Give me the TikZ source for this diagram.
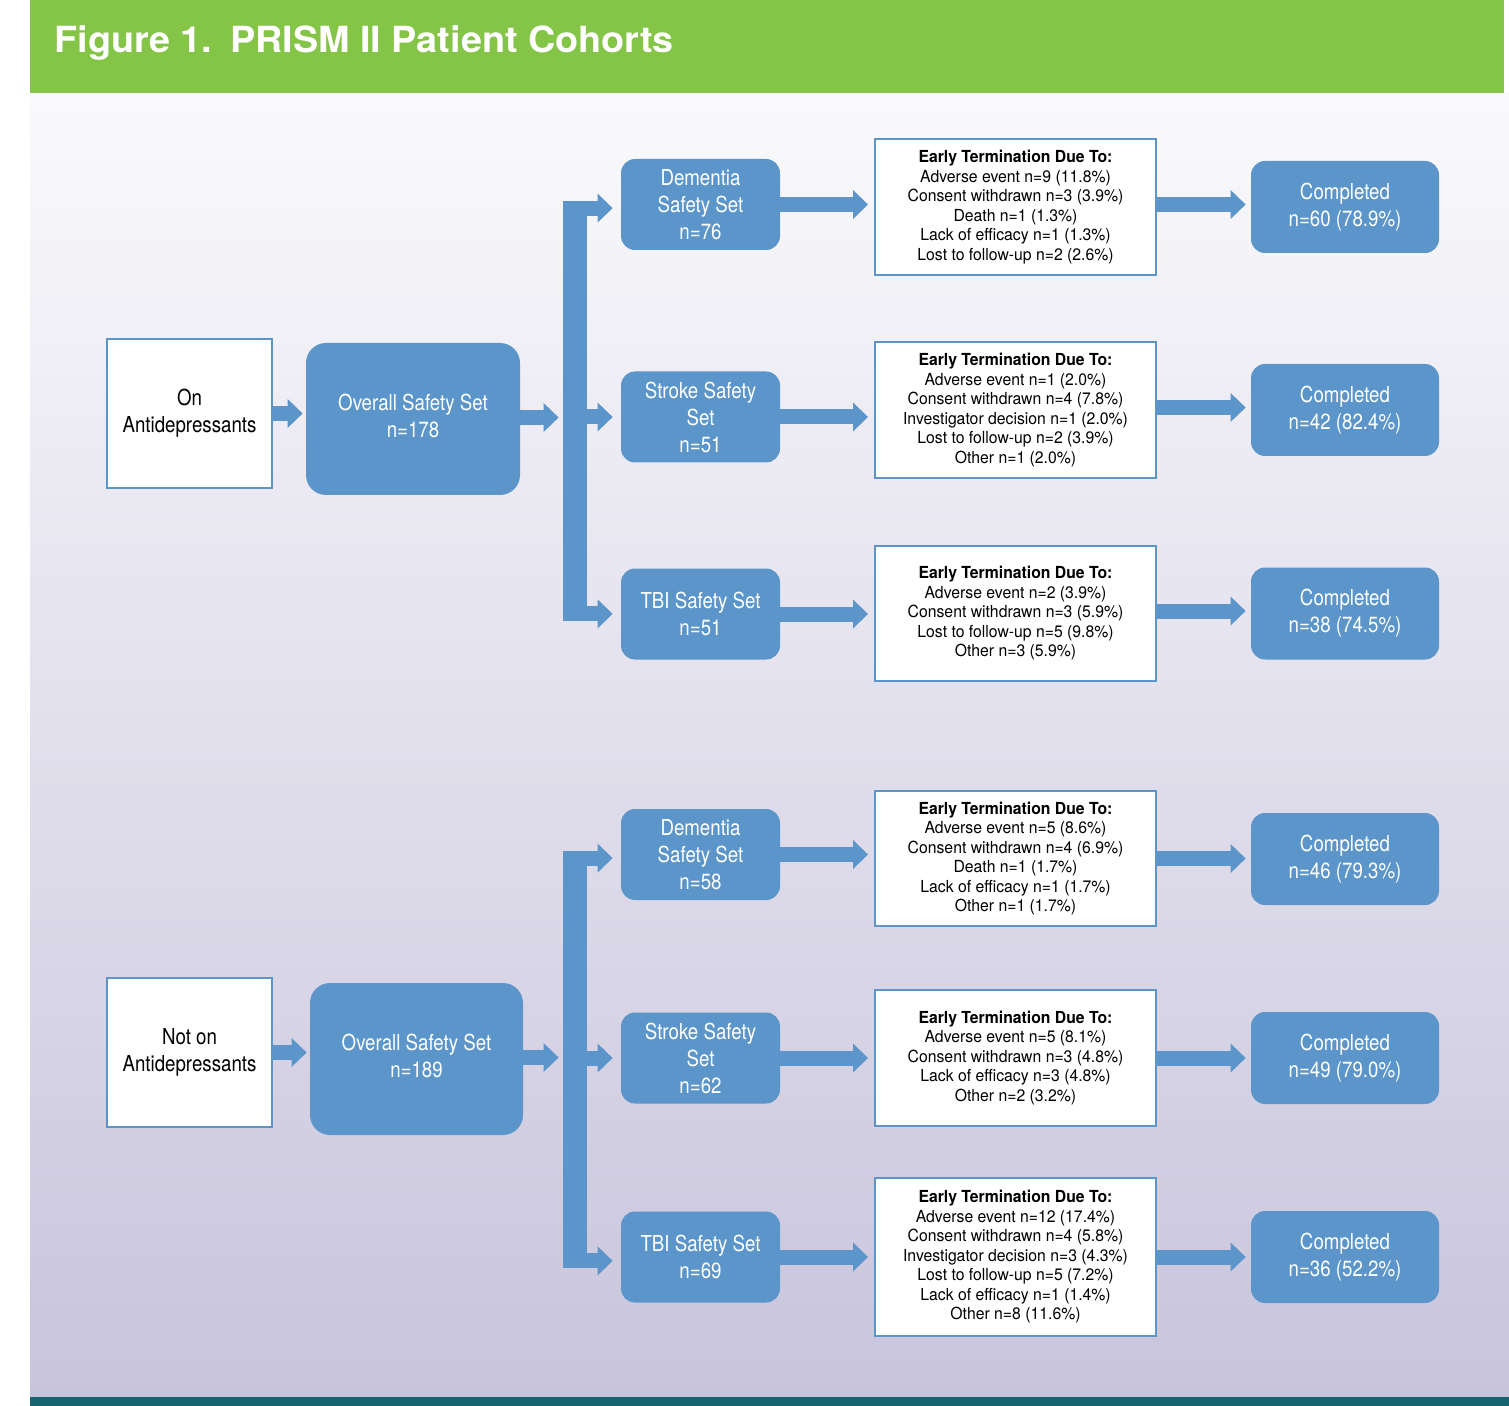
\documentclass[tikz,border=0pt]{standalone}
\usepackage{fontspec}
\setmainfont{TeX Gyre Heros}[FakeStretch=0.85]
\newfontfamily\titlefont{TeX Gyre Heros}[FakeStretch=1.05]
\newfontfamily\etfont{TeX Gyre Heros}[FakeStretch=0.95]
\usetikzlibrary{arrows.meta,calc}
\definecolor{cblue}{HTML}{5B95CA}
\definecolor{cgreen}{HTML}{84C446}
\definecolor{cteal}{HTML}{166470}
\definecolor{bgtop}{HTML}{FAFAFC}
\definecolor{bgbot}{HTML}{C8C4DC}
\tikzset{
  bluebox/.style={fill=cblue, text=white, rounded corners=7pt, align=center, inner sep=0pt,
    font=\fontsize{11}{13.5}\selectfont},
  setbox/.style={bluebox, minimum width=79.5pt, minimum height=45.5pt},
  compbox/.style={bluebox, minimum width=94pt, minimum height=46pt},
  ovbox/.style={bluebox, rounded corners=10pt, minimum width=107pt, minimum height=76pt},
  ovtext/.style={text=white, align=center, inner sep=0pt, yshift=1.75pt,
    font=\fontsize{11}{13.5}\selectfont},
  groupbox/.style={fill=white, draw=cblue, line width=1pt, align=center, inner sep=0pt,
    minimum width=82.5pt, minimum height=74.5pt, font=\fontsize{11}{13.5}\selectfont},
  etbox/.style={fill=white, draw=cblue, line width=1pt, align=center, inner sep=0pt,
    minimum width=140.5pt, font=\etfont\fontsize{8.3}{9.75}\selectfont},
  barrow/.style={draw=cblue, line width=7.5pt,
    -{Triangle[width=14.5pt,length=7.5pt,line width=0pt]}},
  barnode/.style={fill=cblue, inner sep=0pt, minimum width=12pt}
}
\begin{document}
\begin{tikzpicture}[x=0.5pt,y=-0.5pt]
\useasboundingbox (0,0) rectangle (1509,1406);
% background
\fill[white] (0,0) rectangle (1509,1406);
\shade[top color=bgtop, bottom color=bgbot] (30,93) rectangle (1509,1397);
\fill[cgreen] (30,0) rectangle (1504,93);
\fill[cteal] (30,1397) rectangle (1509,1406);
\node[anchor=base west, inner sep=0pt, text=white,
  font=\titlefont\bfseries\fontsize{18}{21}\selectfont] (title) at (54,53)
  {Figure 1.\hspace{0.5em}PRISM II Patient Cohorts};

% ---------- top group ----------
\node[groupbox] (on1) at (189.5,413.5) {On\\Antidepressants};
\node[ovbox, label={[ovtext]center:{Overall Safety Set\\n=178}}] (ov1) at (413,419) {};
\node[barnode, minimum height=210pt] (bar1) at (575,411) {};
\node[setbox] (dem1) at (700.5,204.5) {Dementia\\Safety Set\\n=76};
\node[setbox] (str1) at (700.5,417) {Stroke Safety\\Set\\n=51};
\node[setbox] (tbi1) at (700.5,614) {TBI Safety Set\\n=51};
\node[etbox, minimum height=68pt] (et1a) at (1015.5,207) {\textbf{Early Termination Due To:}\\Adverse event n=9 (11.8\%)\\Consent withdrawn n=3 (3.9\%)\\Death n=1 (1.3\%)\\Lack of efficacy n=1 (1.3\%)\\Lost to follow-up n=2 (2.6\%)};
\node[etbox, minimum height=68pt] (et1b) at (1015.5,410) {\textbf{Early Termination Due To:}\\Adverse event n=1 (2.0\%)\\Consent withdrawn n=4 (7.8\%)\\Investigator decision n=1 (2.0\%)\\Lost to follow-up n=2 (3.9\%)\\Other n=1 (2.0\%)};
\node[etbox, minimum height=67.5pt] (et1c) at (1015.5,613.5) {\textbf{Early Termination Due To:}\\Adverse event n=2 (3.9\%)\\Consent withdrawn n=3 (5.9\%)\\Lost to follow-up n=5 (9.8\%)\\Other n=3 (5.9\%)};
\node[compbox] (co1a) at (1345,207) {Completed\\n=60 (78.9\%)};
\node[compbox] (co1b) at (1345,410) {Completed\\n=42 (82.4\%)};
\node[compbox] (co1c) at (1345,613.5) {Completed\\n=38 (74.5\%)};

\draw[barrow, shorten >=1.5pt] (on1.east) -- (on1.east -| ov1.west);
\draw[barrow, shorten >=2pt] ([yshift=0.75pt]ov1.east) -- ([yshift=0.75pt]ov1.east -| bar1.west);
\coordinate (b1t) at ($(bar1.north)+(0,7.5)$);
\coordinate (b1b) at ($(bar1.south)+(0,-7.5)$);
\draw[barrow, shorten >=4pt] (b1t) -- (b1t -| dem1.west);
\draw[barrow, shorten >=4pt] (bar1.center |- str1.west) -- (str1.west);
\draw[barrow, shorten >=4pt] (b1b) -- (b1b -| tbi1.west);
\foreach \s/\e in {dem1/et1a, str1/et1b, tbi1/et1c}
  \draw[barrow, shorten >=3pt] (\s.east) -- (\s.east -| \e.west);
\foreach \s/\e in {et1a/co1a, et1b/co1b, et1c/co1c}
  \draw[barrow, shorten >=2.5pt] ([yshift=1.25pt]\s.east) -- ([yshift=1.25pt]\s.east -| \e.west);

% ---------- bottom group ----------
\node[groupbox] (on2) at (189.5,1052.5) {Not on\\Antidepressants};
\node[ovbox, minimum width=106.5pt, label={[ovtext]center:{Overall Safety Set\\n=189}}] (ov2) at (416.5,1059) {};
\node[barnode, minimum height=208.5pt] (bar2) at (575,1059.5) {};
\node[setbox] (dem2) at (700.5,854.5) {Dementia\\Safety Set\\n=58};
\node[setbox] (str2) at (700.5,1058) {Stroke Safety\\Set\\n=62};
\node[setbox] (tbi2) at (700.5,1257) {TBI Safety Set\\n=69};
\node[etbox, minimum height=67.5pt] (et2a) at (1015.5,858.5) {\textbf{Early Termination Due To:}\\Adverse event n=5 (8.6\%)\\Consent withdrawn n=4 (6.9\%)\\Death n=1 (1.7\%)\\Lack of efficacy n=1 (1.7\%)\\Other n=1 (1.7\%)};
\node[etbox, minimum height=68pt] (et2b) at (1015.5,1058) {\textbf{Early Termination Due To:}\\Adverse event n=5 (8.1\%)\\Consent withdrawn n=3 (4.8\%)\\Lack of efficacy n=3 (4.8\%)\\Other n=2 (3.2\%)};
\node[etbox, minimum height=79pt] (et2c) at (1015.5,1257) {\textbf{Early Termination Due To:}\\Adverse event n=12 (17.4\%)\\Consent withdrawn n=4 (5.8\%)\\Investigator decision n=3 (4.3\%)\\Lost to follow-up n=5 (7.2\%)\\Lack of efficacy n=1 (1.4\%)\\Other n=8 (11.6\%)};
\node[compbox] (co2a) at (1345,859) {Completed\\n=46 (79.3\%)};
\node[compbox] (co2b) at (1345,1058) {Completed\\n=49 (79.0\%)};
\node[compbox] (co2c) at (1345,1257) {Completed\\n=36 (52.2\%)};

\draw[barrow, shorten >=1.5pt] (on2.east) -- (on2.east -| ov2.west);
\draw[barrow, shorten >=2pt] ([yshift=0.75pt]ov2.east) -- ([yshift=0.75pt]ov2.east -| bar2.west);
\coordinate (b2t) at ($(bar2.north)+(0,7.5)$);
\coordinate (b2b) at ($(bar2.south)+(0,-7.5)$);
\draw[barrow, shorten >=4pt] (b2t) -- (b2t -| dem2.west);
\draw[barrow, shorten >=4pt] (bar2.center |- str2.west) -- (str2.west);
\draw[barrow, shorten >=4pt] (b2b) -- (b2b -| tbi2.west);
\foreach \s/\e in {dem2/et2a, str2/et2b, tbi2/et2c}
  \draw[barrow, shorten >=3pt] (\s.east) -- (\s.east -| \e.west);
\foreach \s/\e in {et2a/co2a, et2b/co2b, et2c/co2c}
  \draw[barrow, shorten >=2.5pt] (\s.east) -- (\s.east -| \e.west);
\end{tikzpicture}
\end{document}
